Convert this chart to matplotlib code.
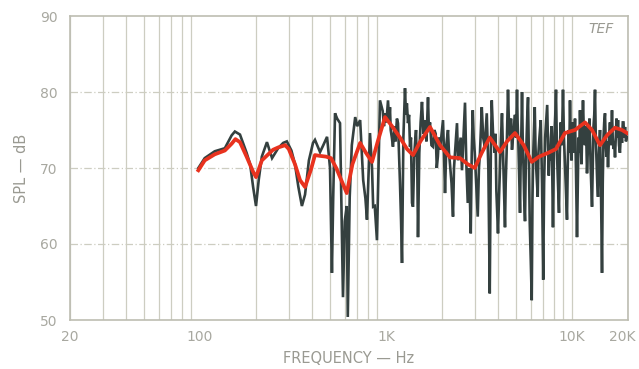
import matplotlib
matplotlib.use("Agg")
import matplotlib.pyplot as plt
from matplotlib.ticker import FixedLocator, NullFormatter
from matplotlib.transforms import ScaledTranslation

# ---- data (frequency in Hz, level in dB SPL) ----
black_low = [(98, 70.0), (106, 71.3), (120, 72.2), (136, 72.6), (148, 74.3), (154, 74.8), (164, 74.4),
             (178, 72.0), (186, 70.5), (193, 67.5), (200, 65.0), (207, 68.5), (215, 71.5), (229, 73.4),
             (244, 71.3), (263, 72.6), (280, 73.3), (293, 73.5), (310, 72.3), (324, 70.5), (338, 67.5),
             (353, 65.0), (367, 66.5), (385, 71.0), (405, 73.3), (415, 73.7), (442, 72.1), (460, 73.0),
             (482, 74.1), (500, 70.0), (512, 56.2), (520, 66.0), (532, 77.2), (546, 76.5), (566, 75.9),
             (575, 66.0), (587, 53.0), (600, 63.0), (615, 65.0), (623, 50.4), (638, 66.2), (655, 73.0),
             (683, 76.7), (700, 75.5), (726, 76.3), (754, 68.4), (775, 66.0), (790, 63.2), (820, 74.6),
             (841, 70.0), (853, 64.9), (870, 65.0), (894, 60.5), (928, 78.9)]

black_mid = [(960, 77.5), (975, 75.5), (988, 77.2), (1005, 76.0), (1025, 78.9), (1040, 76.0),
             (1050, 78.0), (1060, 75.0), (1075, 74.0), (1090, 72.8), (1110, 75.5), (1125, 73.5),
             (1145, 76.5), (1160, 75.9), (1175, 72.0), (1189, 68.0), (1205, 63.0), (1219, 57.5),
             (1240, 74.0), (1265, 80.5), (1280, 77.0), (1295, 78.5), (1313, 75.9), (1330, 77.0),
             (1346, 72.8), (1362, 74.0), (1380, 65.4), (1397, 64.9), (1420, 72.0), (1450, 75.0),
             (1460, 71.5), (1468, 73.0), (1486, 60.9), (1510, 72.0), (1535, 76.0), (1561, 78.7),
             (1590, 74.5), (1620, 76.3), (1650, 73.5), (1682, 79.3), (1700, 75.0), (1724, 76.0),
             (1755, 73.0), (1789, 72.8), (1820, 75.0), (1850, 74.5), (1875, 70.0), (1900, 71.5),
             (1925, 74.0), (1951, 72.4), (1990, 74.5), (2025, 76.3), (2050, 72.0), (2076, 66.7),
             (2110, 73.0), (2154, 75.0), (2180, 72.0), (2208, 70.5), (2250, 68.0), (2292, 63.6),
             (2320, 70.0), (2350, 72.0), (2380, 74.0), (2408, 75.9), (2440, 71.0), (2480, 72.5),
             (2520, 74.0), (2562, 69.7), (2610, 74.0), (2659, 78.6), (2700, 71.0), (2751, 65.4),
             (2800, 70.0), (2855, 61.4), (2890, 72.0), (2927, 77.6), (2960, 74.0), (3000, 72.0),
             (3040, 69.0), (3075, 66.2), (3113, 63.6), (3160, 70.0), (3200, 72.0), (3235, 75.0),
             (3272, 78.0), (3330, 74.0), (3396, 72.8), (3440, 75.0), (3481, 77.2), (3520, 73.0),
             (3550, 70.0), (3612, 53.5), (3660, 72.0), (3703, 78.9), (3770, 74.0), (3843, 72.0),
             (3880, 74.5), (3920, 67.0), (4000, 61.4), (4050, 66.0), (4100, 70.0), (4150, 74.0),
             (4203, 77.2), (4280, 70.0), (4362, 62.2), (4400, 68.0), (4450, 72.0), (4490, 76.0),
             (4528, 80.3), (4590, 75.0), (4650, 74.0), (4700, 76.5), (4757, 72.4), (4850, 75.0),
             (4938, 77.0), (5000, 74.0), (5062, 80.3), (5100, 76.0), (5150, 73.0), (5200, 69.0),
             (5254, 64.1), (5290, 70.0), (5320, 72.0), (5350, 76.0), (5386, 80.0), (5430, 74.0),
             (5480, 70.5), (5530, 66.0), (5589, 63.0), (5640, 70.0), (5700, 74.0), (5750, 77.0),
             (5801, 79.3), (5860, 72.0), (5926, 62.8), (6000, 58.0), (6075, 52.6), (6130, 66.0),
             (6190, 72.0), (6250, 75.0), (6305, 78.0), (6360, 73.0), (6420, 70.0), (6480, 68.0),
             (6543, 66.2), (6600, 72.0), (6680, 74.0), (6792, 76.3), (6850, 72.0), (6900, 68.0),
             (6950, 61.0), (7000, 55.3), (7080, 68.0), (7170, 74.0), (7260, 76.0), (7355, 78.3),
             (7430, 73.0), (7500, 69.0), (7570, 72.0), (7634, 71.0), (7700, 74.0), (7770, 75.5),
             (7840, 68.0), (7901, 62.2), (7970, 70.0), (8050, 74.5), (8130, 77.0), (8201, 80.3),
             (8280, 74.0), (8350, 70.0), (8430, 67.0), (8511, 64.1), (8600, 72.0), (8700, 76.0),
             (8820, 73.0), (8944, 80.3), (9050, 74.0), (9170, 70.5), (9280, 67.0), (9398, 63.2),
             (9480, 70.0), (9580, 75.0), (9670, 72.0), (9755, 78.9), (9850, 73.0), (9940, 71.0)]

black_high = [(10030, 76.0), (10125, 74.1), (10250, 72.0), (10378, 76.5), (10500, 70.0),
              (10638, 60.9), (10740, 68.0), (10840, 74.0), (10940, 72.0), (11040, 77.6),
              (11150, 73.0), (11250, 70.5), (11350, 75.0), (11457, 78.9), (11600, 74.0),
              (11745, 73.0), (11900, 75.5), (12040, 69.3), (12230, 74.0), (12420, 76.5),
              (12600, 70.0), (12810, 64.9), (12930, 70.0), (13050, 75.5), (13170, 77.0),
              (13295, 80.3), (13420, 74.0), (13540, 71.0), (13670, 68.0), (13797, 66.2),
              (13970, 72.0), (14142, 75.0), (14300, 68.0), (14498, 56.2), (14630, 68.0),
              (14770, 74.0), (14900, 76.0), (15045, 77.2), (15190, 73.0), (15330, 71.5),
              (15470, 73.5), (15616, 70.1), (15800, 74.0), (16000, 76.0), (16200, 73.0),
              (16405, 77.6), (16550, 74.0), (16710, 72.5), (16870, 73.5), (17028, 71.4),
              (17200, 74.0), (17350, 76.5), (17500, 74.0), (17670, 76.3), (17900, 73.0),
              (18100, 72.0), (18350, 75.0), (18570, 73.3), (18750, 76.0), (18900, 76.0),
              (19100, 74.0), (19272, 75.4), (19500, 73.5), (19753, 74.1)]

red_freq = [98, 106, 120, 136, 148, 155, 164, 178, 193, 200, 215, 247, 263, 287, 300, 324, 345, 367, 395,
            415, 440, 475, 506, 540, 615, 660, 726, 780, 841, 903, 988, 1077, 1189, 1297, 1397, 1530,
            1724, 1951, 2208, 2499, 2751, 3000, 3272, 3612, 4100, 4473, 4938, 5500, 6075, 6650, 7450,
            8201, 9160, 10378, 11745, 12810, 14142, 15420, 17028, 18570, 19753]
red_db = [69.7, 71.0, 71.8, 72.3, 73.2, 73.8, 73.4, 71.5, 69.5, 68.8, 71.0, 72.4, 72.7, 73.0, 72.5, 70.5,
          68.4, 67.5, 69.8, 71.7, 71.6, 71.5, 71.3, 70.0, 66.7, 70.5, 73.3, 72.0, 70.8, 73.5, 76.7, 75.5,
          74.0, 72.5, 71.7, 73.5, 75.4, 73.0, 71.4, 71.3, 70.5, 70.0, 72.0, 74.0, 72.1, 73.5, 74.6, 73.0,
          70.8, 71.5, 72.0, 72.5, 74.6, 75.0, 76.0, 75.0, 73.0, 74.3, 75.3, 75.0, 74.6]

y_ticks = [50, 60, 70, 80, 90]
y_tick_labels = ["50", "60", "70", "80", "90"]
x_label_pos = [20, 100, 1000, 10000, 20000]
x_label_text = ["20", "100", "1K", "10K", "20K"]

black_points = black_low + black_mid + black_high
black_freq = [p[0] for p in black_points]
black_db = [p[1] for p in black_points]

# ---- figure ----
fig = plt.figure(figsize=(6.39, 3.69), dpi=100)
ax = fig.add_axes([70/639, 1 - 320/369, 558/639, 304/369])
ax.set_xscale("log")
ax.set_xlim(20, 20000)
ax.set_ylim(50, 90)

grid_col = "#cdcdc1"
minor_lines = [m * d for d in (10, 100, 1000) for m in range(2, 10)] + [10000, 20000]
for f in minor_lines:
    ax.axvline(f, color=grid_col, lw=0.9, zorder=1)
for y in (60, 70, 80):
    ax.axhline(y, color=grid_col, lw=0.9, ls=(0, (6, 2, 1, 2)), zorder=1)

ax.plot(black_freq, black_db, color="#34403f", lw=1.9, zorder=3, solid_joinstyle="miter")
ax.plot(red_freq, red_db, color="#e8321e", lw=2.7, zorder=4, solid_joinstyle="round")

for s in ax.spines.values():
    s.set_color("#bdbdb2")
    s.set_linewidth(1.2)

txt_col = "#a8a8a0"
ax.yaxis.set_major_locator(FixedLocator(y_ticks))
ax.set_yticklabels(y_tick_labels, fontsize=10, color=txt_col)
ax.xaxis.set_major_locator(FixedLocator(x_label_pos))
ax.xaxis.set_minor_formatter(NullFormatter())
ax.set_xticklabels(x_label_text, fontsize=10, color=txt_col)
ax.tick_params(axis="both", which="both", length=0)
ax.tick_params(axis="x", pad=7)
ax.tick_params(axis="y", pad=9)
last = ax.get_xticklabels()[-1]
last.set_transform(last.get_transform() + ScaledTranslation(-6/100, 0, fig.dpi_scale_trans))

ax.set_ylabel("SPL — dB", fontsize=10.5, color="#9a9a92", labelpad=8)
ax.set_xlabel("FREQUENCY — Hz", fontsize=10.5, color="#9a9a92", labelpad=5)
ax.text(0.975, 0.98, "TEF", transform=ax.transAxes, fontsize=10, style="italic",
        color="#9a9a92", ha="right", va="top")

fig.savefig("out.png", dpi=100, facecolor="white")
